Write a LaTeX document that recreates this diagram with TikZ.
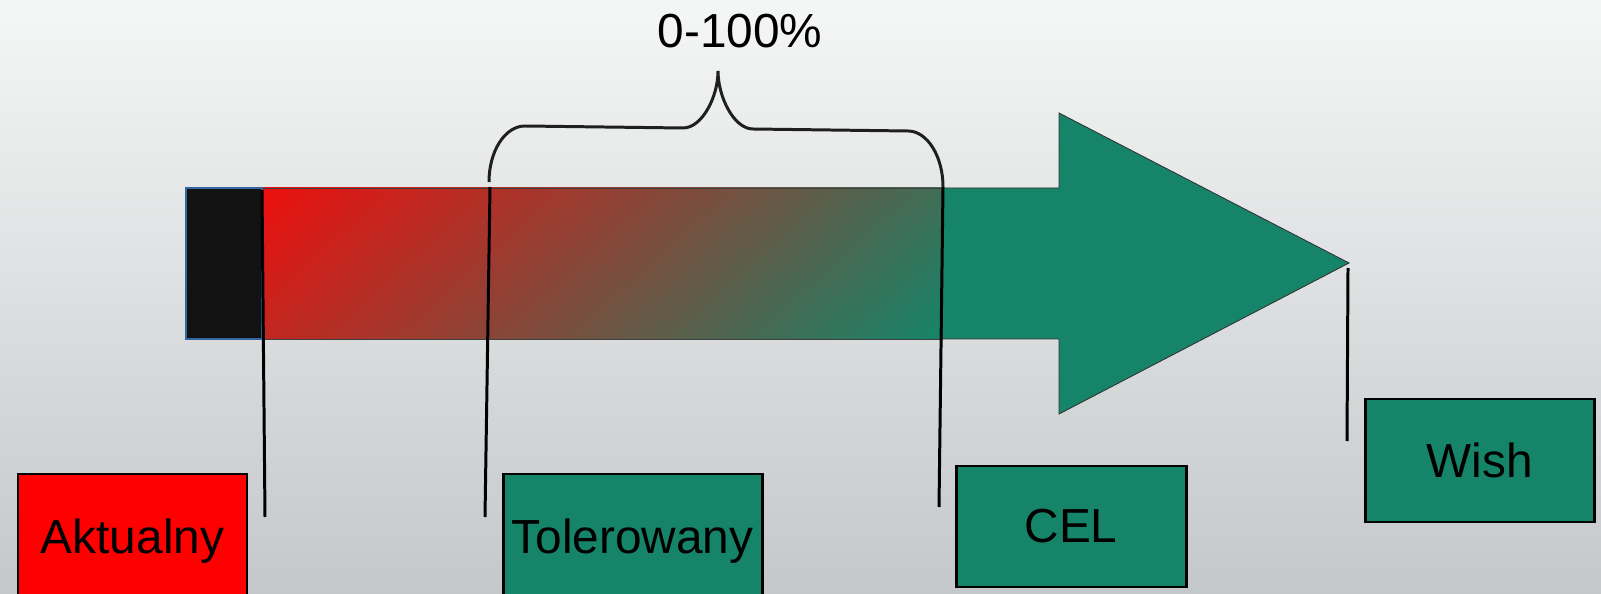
\documentclass[tikz,border=0pt]{standalone}
\usepackage{fontspec}
\setmainfont{Liberation Sans}
\usetikzlibrary{positioning}
\definecolor{goalgreen}{RGB}{22,132,104}
\definecolor{nowred}{RGB}{236,16,14}
\definecolor{bgtop}{RGB}{245,246,246}
\definecolor{bgbottom}{RGB}{196,200,202}
\definecolor{edgeblue}{RGB}{52,101,164}
% red to green across the whole shaft
\pgfdeclareverticalshading{shaftshade}{100bp}{color(0bp)=(goalgreen); color(15bp)=(goalgreen); color(85bp)=(nowred); color(100bp)=(nowred)}

\begin{document}
\begin{tikzpicture}[
    labelbox/.style={draw=black, line width=1.7pt, minimum width=4.58cm, minimum height=2.46cm, inner sep=0pt, font=\fontsize{27.2}{32}\selectfont},
    marker/.style={line width=1.7pt, black},
]
    % Background
    \useasboundingbox (0,0) rectangle (32.02,11.86);
    \shade[top color=bgtop, bottom color=bgbottom] (0,0) rectangle (32.02,11.86);

    % Big arrow
    \draw[fill=goalgreen, draw=black!80, line width=0.5pt] (5.24,5.08) -- (21.18,5.08) -- (21.18,3.58) -- (26.98,6.60) -- (21.18,9.60) -- (21.18,8.10) -- (5.24,8.10) -- cycle;

    % Red to green part of the shaft
    \shade[shading=shaftshade, shading angle=42] (5.24,5.08) rectangle (18.84,8.10);
    \draw[black!75, line width=0.5pt] (5.24,5.08) rectangle (18.84,8.10);
    \draw[fill=black!93, draw=edgeblue, line width=0.6pt] (3.72,5.08) rectangle (5.24,8.10);

    % Boxes
    \node[labelbox, fill=red, minimum height=2.68cm] (aktualny) at (2.65,1.04) {Aktualny};
    \node[labelbox, fill=goalgreen, minimum width=5.18cm, minimum height=2.68cm] (tolerowany) at (12.65,1.04) {Tolerowany};
    \node[labelbox, fill=goalgreen, minimum width=4.60cm, minimum height=2.42cm] (cel) at (21.42,1.33) {CEL};
    \node[labelbox, fill=goalgreen] (wish) at (29.59,2.65) {Wish};

    % Markers
    \coordinate (aktualny top) at (5.24,8.06);
    \coordinate (aktualny foot) at (5.30,1.52);
    \coordinate (tolerowany top) at (9.80,8.12);
    \coordinate (tolerowany foot) at (9.70,1.52);
    \coordinate (cel top) at (18.86,8.12);
    \coordinate (cel foot) at (18.78,1.72);
    \coordinate (wish top) at (26.96,6.50);
    \coordinate (wish foot) at (26.94,3.04);
    \draw[marker] (aktualny top) -- (aktualny foot);
    \draw[marker] (tolerowany top) -- (tolerowany foot);
    \draw[marker] (cel top) -- (cel foot);
    \draw[marker] (wish top) -- (wish foot);

    % Brace
    \coordinate (brace left) at (9.78,8.22);
    \coordinate (brace tip) at (14.36,10.44);
    \coordinate (brace right) at (18.86,8.12);
    \draw[line width=1.7pt, black!88] (brace left) .. controls (9.78,8.84) and (10.10,9.34) .. (10.50,9.34) -- (13.66,9.30)
        .. controls (14.04,9.30) and (14.36,9.92) .. (brace tip)
        .. controls (14.36,9.92) and (14.68,9.28) .. (15.06,9.28) -- (18.16,9.24)
        .. controls (18.54,9.24) and (18.86,8.74) .. (brace right);
    \node[font=\fontsize{27.2}{32}\selectfont] (range) at (14.80,11.24) {0-100\%};
\end{tikzpicture}
\end{document}
